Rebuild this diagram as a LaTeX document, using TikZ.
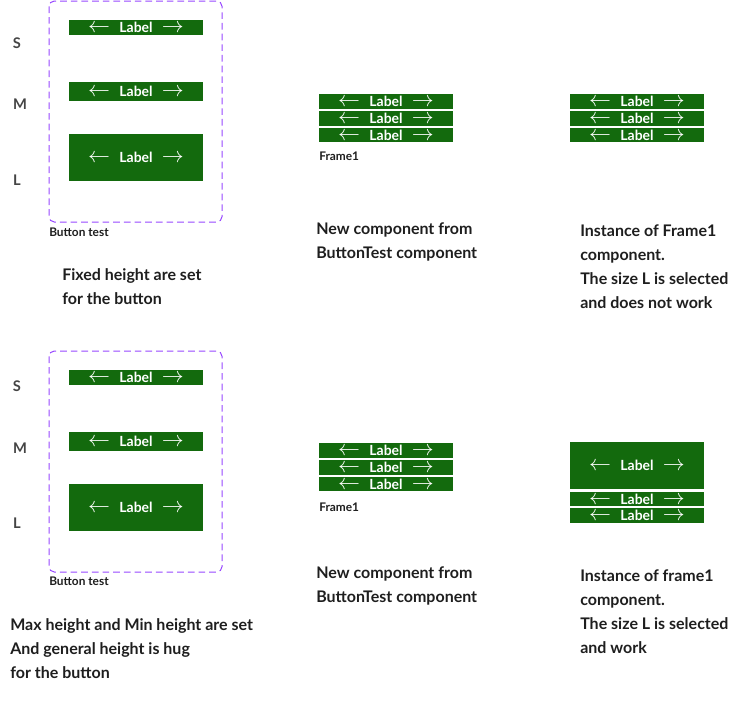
\documentclass[tikz,border=0pt]{standalone}
\usepackage{fontspec}
\usepackage{graphicx}
\setmainfont{Lato}
\definecolor{btngreen}{HTML}{136A0D}
\definecolor{framepurple}{HTML}{9747FF}
\definecolor{noteink}{HTML}{1E1E1E}
\definecolor{sizeink}{HTML}{444444}
\newcommand{\btnarrow}[1]{\smash{\raisebox{-0.2pt}{\scalebox{1.5}{$#1$}}}}
\newcommand{\btntext}{\btnarrow{\leftarrow}\hspace{7pt}Label\hspace{7pt}\btnarrow{\rightarrow}}

\begin{document}
\begin{tikzpicture}[
  x=0.75pt,
  y=-0.75pt,
  every node/.style={text=noteink},
  btn/.style={fill=btngreen, text=white, inner sep=0pt,
              minimum width=100.5pt, font=\fontsize{10.5}{11}\selectfont\bfseries},
  btnS/.style={btn, minimum height=11.25pt},
  btnM/.style={btn, minimum height=14.5pt},
  btnL/.style={btn, minimum height=35.25pt},
  rowbtn/.style={btn, minimum height=11pt},
  frame/.style={framepurple, line width=0.75pt,
                dash pattern=on 5pt off 3pt, rounded corners=4pt},
  sizetag/.style={text=sizeink, font=\fontsize{11}{12}\selectfont\bfseries},
  caption/.style={anchor=west, inner sep=0pt, font=\fontsize{8.9}{9}\selectfont\bfseries},
  note/.style={anchor=north west, align=left, inner sep=0pt,
               font=\fontsize{12}{18}\selectfont\bfseries}
]
  \useasboundingbox (0,0) rectangle (738,700);

  % ---- top: fixed heights ----
  \draw[frame] (49,1) rectangle (222,222);
  \node[sizetag] (topS) at (17,43)  {S};
  \node[sizetag] (topM) at (20,104) {M};
  \node[sizetag] (topL) at (17,180) {L};
  \node[btnS] (topbtnS) at (136,27.5)  {\btntext};
  \node[btnM] (topbtnM) at (136,91.5)  {\btntext};
  \node[btnL] (topbtnL) at (136,157.5) {\btntext};
  \node[caption] (topcap) at (49,232) {Button test};
  \node[note] (topnote) at (62,268) {Fixed height are set\\for the button};

  % ---- top: Frame1 ----
  \node[rowbtn] (topfrA) at (386,101.5) {\btntext};
  \node[rowbtn] (topfrB) at (386,118.5) {\btntext};
  \node[rowbtn] (topfrC) at (386,135)   {\btntext};
  \node[caption] (topfrcap) at (319,156) {Frame1};
  \node[note] (topfrnote) at (316,222) {New component from\\ButtonTest component};

  % ---- top: instance ----
  \node[rowbtn] (topinA) at (637,101.5) {\btntext};
  \node[rowbtn] (topinB) at (637,118.5) {\btntext};
  \node[rowbtn] (topinC) at (637,135)   {\btntext};
  \node[note] (topinnote) at (580,224)
    {Instance of Frame1\\component.\\The size L is selected\\and does not work};

  % ---- bottom: min / max heights ----
  \draw[frame] (49,351) rectangle (222,572);
  \node[sizetag] (botS) at (17,386) {S};
  \node[sizetag] (botM) at (20,448) {M};
  \node[sizetag] (botL) at (17,523) {L};
  \node[btnS] (botbtnS) at (136,377.5) {\btntext};
  \node[btnM] (botbtnM) at (136,441.5) {\btntext};
  \node[btnL] (botbtnL) at (136,507.5) {\btntext};
  \node[caption] (botcap) at (49,581) {Button test};
  \node[note] (botnote) at (10,618)
    {Max height and Min height are set\\And general height is hug\\for the button};

  % ---- bottom: Frame1 ----
  \node[rowbtn] (botfrA) at (386,450.5) {\btntext};
  \node[rowbtn] (botfrB) at (386,467.5) {\btntext};
  \node[rowbtn] (botfrC) at (386,484)   {\btntext};
  \node[caption] (botfrcap) at (319,507) {Frame1};
  \node[note] (botfrnote) at (316,566) {New component from\\ButtonTest component};

  % ---- bottom: instance ----
  \node[btnL]   (botinL) at (637,465)   {\btntext};
  \node[rowbtn] (botinA) at (637,499)   {\btntext};
  \node[rowbtn] (botinB) at (637,515.5) {\btntext};
  \node[note] (botinnote) at (580,569)
    {Instance of frame1\\component.\\The size L is selected\\and work};
\end{tikzpicture}
\end{document}
